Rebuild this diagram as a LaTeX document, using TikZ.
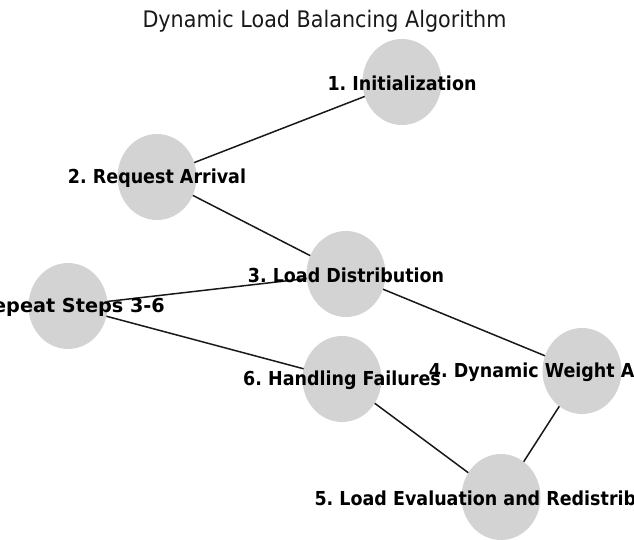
\documentclass[tikz,border=0pt]{standalone}
\usepackage{fontspec}
\setmainfont{DejaVu Sans}
\usetikzlibrary{shapes.geometric}
\definecolor{nodegray}{RGB}{211,211,211}
\definecolor{edgeblack}{RGB}{25,25,25}
\tikzset{
  vnode/.style={ellipse, fill=nodegray, draw=none, minimum width=79pt, minimum height=86pt, inner sep=0pt},
  vlabel/.style={inner sep=0pt, font=\fontsize{17.5}{20}\selectfont\bfseries\frenchspacing, text=black},
  vedge/.style={draw=edgeblack, line width=1.5pt},
  vtitle/.style={inner sep=0pt, font=\fontsize{20.7}{24}\selectfont\frenchspacing, text=black!90}
}
\newcommand{\vstretch}[1]{\scalebox{1}[1.1]{#1}}
\begin{document}
\begin{tikzpicture}[x=1pt,y=-1pt]
\useasboundingbox (0,0) rectangle (634,540);
\clip (0,0) rectangle (634,540);
\fill[white] (0,0) rectangle (634,540);
% edges first (drawn under nodes)
\coordinate (c1) at (402,82);
\coordinate (c2) at (157,177);
\coordinate (c3) at (346,274);
\coordinate (c4) at (582,371);
\coordinate (c5) at (501,497);
\coordinate (c6) at (342,379);
\coordinate (c7) at (68,306);
\draw[vedge] (c1) -- (c2);
\draw[vedge] (c2) -- (c3);
\draw[vedge] (c3) -- (c4);
\draw[vedge] (c4) -- (c5);
\draw[vedge] (c5) -- (c6);
\draw[vedge] (c6) -- (c7);
\draw[vedge] (c7) -- (c3);
% nodes
\node[vnode] (n1) at (c1) {};
\node[vnode] (n2) at (c2) {};
\node[vnode] (n3) at (c3) {};
\node[vnode] (n4) at (c4) {};
\node[vnode] (n5) at (c5) {};
\node[vnode] (n6) at (c6) {};
\node[vnode] (n7) at (c7) {};
% labels
\node[vlabel] (l1) at ([yshift=-1pt]n1.center) {\vstretch{1. Initialization}};
\node[vlabel] (l2) at ([yshift=-1pt]n2.center) {\vstretch{2. Request Arrival}};
\node[vlabel] (l3) at ([yshift=-1pt]n3.center) {\vstretch{3. Load Distribution}};
\node[vlabel] (l4) at ([yshift=-1pt]n4.center) {\vstretch{4. Dynamic Weight Adjustment}};
\node[vlabel] (l5) at ([yshift=-1pt]n5.center) {\vstretch{5. Load Evaluation and Redistribution}};
\node[vlabel] (l6) at ([yshift=-1pt]n6.center) {\vstretch{6. Handling Failures}};
\node[vlabel, anchor=east] (l7) at ([xshift=97pt,yshift=-1pt]n7.center) {\scalebox{1.1}[1.1]{7. Repeat Steps 3-6}};
% title
\node[vtitle] (title) at (324.5,21) {\vstretch{Dynamic Load Balancing Algorithm}};
\end{tikzpicture}
\end{document}
